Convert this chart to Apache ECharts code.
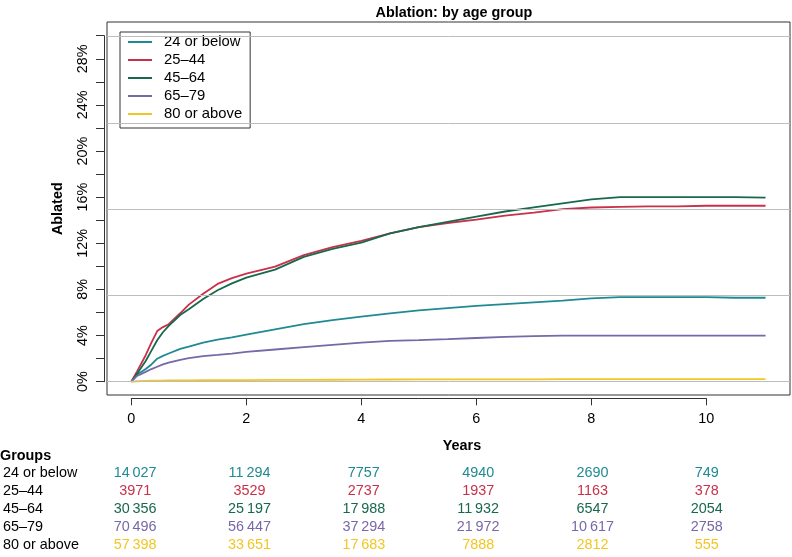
<!DOCTYPE html>
<html>
<head>
<meta charset="utf-8">
<script src="https://cdn.jsdelivr.net/npm/echarts@6/dist/echarts.min.js"></script>
<style>html,body{margin:0;padding:0;background:#fff}#c{width:792px;height:557px}</style>
</head>
<body>
<div id="c"></div>
<script>
// ---- data ----
const times = [0,0.1,0.25,0.35,0.45,0.55,0.65,0.85,1,1.25,1.5,1.75,2,2.5,3,3.5,4,4.5,5,5.5,6,6.5,7,7.5,8,8.5,9,9.5,10,10.5,11.03];
const groups = ['24 or below','25\u201344','45\u201364','65\u201379','80 or above'];
const age24 = [0,0.6,1.1,1.5,2.0,2.25,2.45,2.85,3.05,3.4,3.65,3.85,4.1,4.55,5.0,5.35,5.65,5.95,6.2,6.4,6.6,6.75,6.9,7.05,7.25,7.35,7.35,7.35,7.35,7.3,7.3];
const age25 = [0,0.9,2.3,3.4,4.4,4.75,5.0,5.95,6.7,7.65,8.5,9.0,9.4,10.0,11.0,11.7,12.25,12.9,13.45,13.8,14.1,14.45,14.7,15.0,15.15,15.2,15.25,15.25,15.3,15.3,15.3];
const age45 = [0,0.7,1.8,2.7,3.6,4.3,4.85,5.8,6.3,7.2,7.95,8.55,9.05,9.75,10.85,11.55,12.1,12.9,13.45,13.9,14.35,14.8,15.15,15.5,15.85,16.05,16.05,16.05,16.05,16.05,16.0];
const age65 = [0,0.5,0.85,1.1,1.3,1.5,1.65,1.9,2.05,2.22,2.33,2.45,2.6,2.8,3.0,3.2,3.4,3.55,3.62,3.7,3.8,3.9,3.97,4.0,4.0,4.0,4.0,4.0,4.0,4.0,4.0];
const age80 = [0,0.04,0.07,0.09,0.1,0.1,0.11,0.12,0.12,0.13,0.13,0.14,0.14,0.15,0.16,0.17,0.18,0.19,0.2,0.2,0.21,0.21,0.21,0.22,0.22,0.22,0.22,0.22,0.22,0.22,0.22];
const riskTimes = [0,2,4,6,8,10];
const risk24 = [14027,11294,7757,4940,2690,749];
const risk25 = [3971,3529,2737,1937,1163,378];
const risk45 = [30356,25197,17988,11932,6547,2054];
const risk65 = [70496,56447,37294,21972,10617,2758];
const risk80 = [57398,33651,17683,7888,2812,555];
const gridValues = [0,7.5,15,22.5,30];
const xTicks = {min:0, max:10, interval:2};
const yTicks = {min:0, max:30, interval:2, labelEvery:4};

// ---- styling ----
const colors = ['#1f8a94','#c9304a','#17694c','#7768a8','#f2c624'];
const FONT = '"Liberation Sans", Arial, Helvetica, sans-serif';
const ageSeries = [age24, age25, age45, age65, age80];
const riskSeries = [risk24, risk25, risk45, risk65, risk80];

function fmt(n){
  const s = String(n);
  if (n >= 10000) return s.slice(0, s.length-3) + '\u2009' + s.slice(s.length-3);
  return s;
}

const series = [];
// gridlines
series.push({
  type:'line', xAxisIndex:0, yAxisIndex:0, data:[], silent:true, z:1,
  markLine:{silent:true, symbol:'none', label:{show:false}, animation:false,
    lineStyle:{color:'#bdbdbd', type:'solid', width:1},
    data: gridValues.map(v=>({yAxis:v}))}
});
groups.forEach((g,i)=>{
  series.push({
    name:g, type:'line', xAxisIndex:0, yAxisIndex:0, showSymbol:false, symbol:'none',
    z:3, animation:false,
    lineStyle:{color:colors[i], width:1.8}, itemStyle:{color:colors[i]},
    data: times.map((t,k)=>[t, ageSeries[i][k]])
  });
});
groups.forEach((g,i)=>{
  series.push({
    name:'risk '+g, type:'scatter', xAxisIndex:3, yAxisIndex:3, symbolSize:0, silent:true,
    animation:false, itemStyle:{opacity:1, color:colors[i]},
    label:{show:true, position:'inside', color:colors[i], opacity:1, fontSize:14.4, fontFamily:FONT,
      textBorderWidth:0, textShadowBlur:0,
      formatter:p=>fmt(p.value[2])},
    data: riskTimes.map((t,k)=>[t, g, riskSeries[i][k]])
  });
});

const option = {
  backgroundColor:'#fff',
  animation:false,
  textStyle:{fontFamily:FONT},
  title:{text:'Ablation: by age group', left:448.9, top:1, textAlign:'center',
    textStyle:{fontFamily:FONT, fontSize:14.4, fontWeight:'bold', color:'#000'}},
  legend:{
    data:groups, orient:'vertical', left:120, top:32, itemGap:2,
    itemWidth:24, itemHeight:2, icon:'rect',
    padding:[2,8,6,8],
    backgroundColor:'#fff', borderColor:'#333', borderWidth:1,
    textStyle:{fontFamily:FONT, fontSize:14.8, color:'#000', lineHeight:16, padding:[0,0,0,7]}
  },
  grid:[
    {left:107, top:22, width:683, height:373, show:true, borderColor:'#333', borderWidth:1, backgroundColor:'transparent'},
    {left:131.3, top:22, width:575, height:376.3},
    {left:104, top:35.7, width:600, height:346},
    {left:107, top:464.35, width:683, height:89.5}
  ],
  xAxis:[
    {gridIndex:0, type:'value', min:-0.4226, max:11.455, show:false},
    {gridIndex:1, type:'value', min:xTicks.min, max:xTicks.max, interval:xTicks.interval,
      axisLine:{show:true, lineStyle:{color:'#333', width:1}},
      axisTick:{show:true, length:7, lineStyle:{color:'#333'}},
      splitLine:{show:false},
      axisLabel:{margin:14, fontSize:14.4, color:'#000', fontFamily:FONT}},
    {gridIndex:2, type:'value', min:0, max:1, show:false},
    {gridIndex:3, type:'value', min:-0.4226, max:11.455, show:false}
  ],
  yAxis:[
    {gridIndex:0, type:'value', min:-1.157, max:31.28, show:false},
    {gridIndex:1, type:'value', min:0, max:1, show:false},
    {gridIndex:2, type:'value', min:yTicks.min, max:yTicks.max, interval:yTicks.interval,
      axisLine:{show:true, lineStyle:{color:'#333', width:1}},
      axisTick:{show:true, length:8, lineStyle:{color:'#333'}},
      splitLine:{show:false},
      axisLabel:{margin:14, rotate:90, fontSize:14.4, color:'#000', fontFamily:FONT,
        formatter:v=> (v % yTicks.labelEvery === 0 && v < yTicks.max) ? v+'%' : ''}},
    {gridIndex:3, type:'category', data:groups, inverse:true,
      axisLine:{show:false}, axisTick:{show:false}, splitLine:{show:false},
      axisLabel:{interval:0, hideOverlap:false, align:'left', margin:108, fontSize:14.4, color:'#000', fontFamily:FONT}}
  ],
  graphic:[
    {type:'text', x:462, y:446, style:{text:'Years', font:'bold 14.4px '+FONT, fill:'#000', align:'center', verticalAlign:'middle'}},
    {type:'text', x:58, y:208.7, rotation:Math.PI/2, style:{text:'Ablated', font:'bold 14.4px '+FONT, fill:'#000', align:'center', verticalAlign:'middle'}},
    {type:'text', x:0, y:456, style:{text:'Groups', font:'bold 14.4px '+FONT, fill:'#000', align:'left', verticalAlign:'middle'}}
  ],
  series:series
};
const chart = echarts.init(document.getElementById('c'), null, {renderer:'canvas'});
chart.setOption(option);
</script>
</body>
</html>
